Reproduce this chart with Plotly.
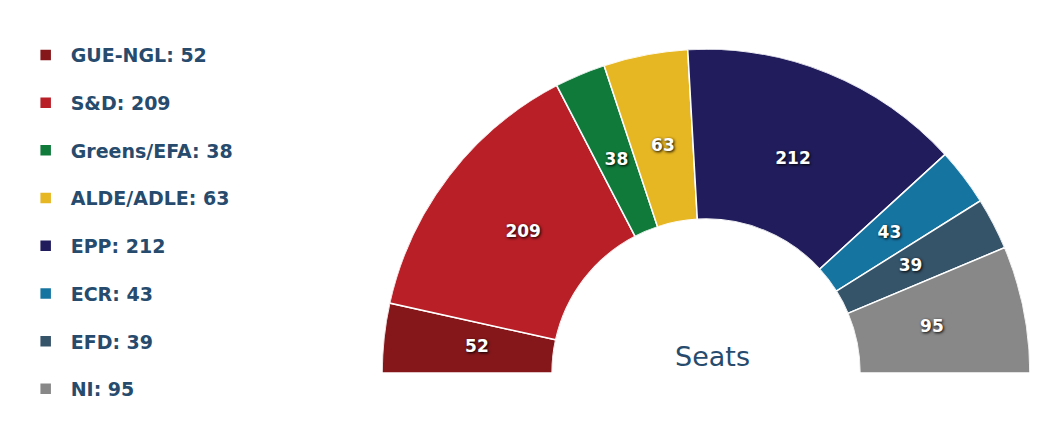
import plotly.graph_objects as go

parties = ["GUE-NGL", "S&D", "Greens/EFA", "ALDE/ADLE", "EPP", "ECR", "EFD", "NI"]
seats = [52, 209, 38, 63, 212, 43, 39, 95]
colors = ["#85171b", "#b81f27", "#107a3b", "#e6b623", "#211d5c", "#1674a1", "#355369", "#888888"]

total = sum(seats)
fig = go.Figure()

start = 0
mids = []
for name, v, c in zip(parties, seats, colors):
    width = v / total * 180
    mid = start / total * 180 + width / 2
    mids.append(mid)
    fig.add_trace(go.Barpolar(
        r=[1], theta=[mid], width=[width], base=0,
        name=f"{name}: {v}",
        marker=dict(color=c, line=dict(color="white", width=1.5)),
        legendgroup=name,
        hoverinfo="name",
    ))
    start += v

fig.add_trace(go.Scatterpolar(
    r=[0.45] * len(seats), theta=mids, mode="text",
    text=[str(v) for v in seats],
    textfont=dict(family="DejaVu Sans", size=17, color="white", weight="bold",
                  shadow="1px 1px 3px #000"),
    showlegend=False, hoverinfo="skip",
))

fig.add_annotation(text="Seats", x=704 / 1056, y=0.194, xref="paper", yref="paper",
                   xanchor="center", yanchor="middle", showarrow=False,
                   font=dict(family="DejaVu Sans", size=27, color="#274b6d"))

fig.update_layout(
    width=1056, height=432,
    margin=dict(l=0, r=0, t=0, b=0),
    paper_bgcolor="white",
    polar=dict(
        domain=dict(x=[0.3537, 0.9683], y=[0.1551, 0.9051]),
        sector=[0, 180],
        hole=0.475,
        bgcolor="white",
        radialaxis=dict(range=[0, 1], visible=False),
        angularaxis=dict(rotation=180, direction="clockwise", visible=False,
                         showgrid=False),
        bargap=0,
    ),
    legend=dict(x=0.012, y=0.935, yanchor="top", xanchor="left",
                font=dict(family="DejaVu Sans", size=19, color="#274b6d", weight="bold"),
                tracegroupgap=20, itemwidth=40),
    showlegend=True,
)

fig.write_html("out.html")
